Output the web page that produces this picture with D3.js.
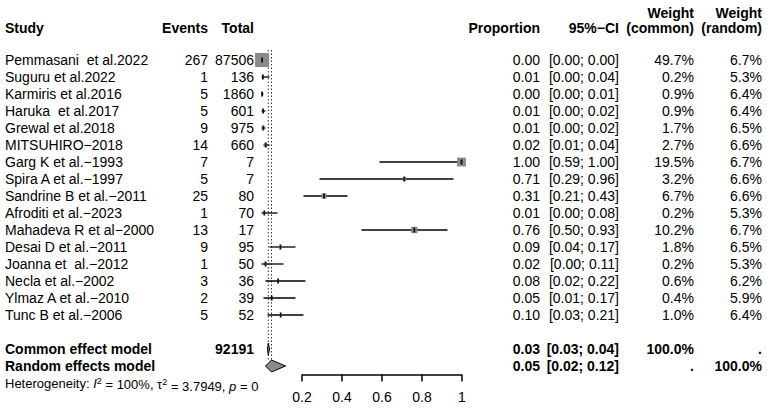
<!DOCTYPE html>
<html>
<head>
<meta charset="utf-8">
<script src="https://cdn.jsdelivr.net/npm/d3@7"></script>
<style>
  body { margin: 0; background: #fff; }
  svg { font-family: "Liberation Sans", Arial, Helvetica, sans-serif; }
  text { white-space: pre; }
</style>
</head>
<body>
<svg id="chart" width="767" height="409"></svg>
<script>
// study data
const studies = ["Pemmasani  et al.2022", "Suguru et al.2022", "Karmiris et al.2016", "Haruka  et al.2017",
  "Grewal et al.2018", "MITSUHIRO\u22122018", "Garg K et al.\u22121993", "Spira A et al.\u22121997",
  "Sandrine B et al.\u22122011", "Afroditi et al.\u22122023", "Mahadeva R et al\u22122000", "Desai D et al.\u22122011",
  "Joanna et  al.\u22122012", "Necla et al.\u22122002", "Ylmaz A et al.\u22122010", "Tunc B et al.\u22122006"];
const events = [267, 1, 5, 5, 9, 14, 7, 5, 25, 1, 13, 9, 1, 3, 2, 5];
const totals = [87506, 136, 1860, 601, 975, 660, 7, 7, 80, 70, 17, 95, 50, 36, 39, 52];
const estimates = [0.003, 0.007, 0.003, 0.008, 0.009, 0.021, 1.0, 0.714, 0.313, 0.014, 0.764, 0.0947, 0.02, 0.083, 0.051, 0.096];
const lower = [0.00, 0.00, 0.00, 0.00, 0.00, 0.01, 0.59, 0.29, 0.21, 0.00, 0.50, 0.04, 0.00, 0.02, 0.01, 0.03];
const upper = [0.00, 0.04, 0.01, 0.02, 0.02, 0.04, 1.00, 0.96, 0.43, 0.08, 0.93, 0.17, 0.11, 0.22, 0.17, 0.21];
const weightCommon = [49.7, 0.2, 0.9, 0.9, 1.7, 2.7, 19.5, 3.2, 6.7, 0.2, 10.2, 1.8, 0.2, 0.6, 0.4, 1.0];
const weightRandom = [6.7, 5.3, 6.4, 6.4, 6.5, 6.6, 6.7, 6.6, 6.6, 5.3, 6.7, 6.5, 5.3, 6.2, 5.9, 6.4];

// pooled estimates
const pooled = [
  { name: "Common effect model", total: "92191", est: 0.034, shown: "0.03", lo: 0.03, hi: 0.04, wc: "100.0%", wr: "." },
  { name: "Random effects model", total: "", est: 0.05, shown: "0.05", lo: 0.02, hi: 0.12, wc: ".", wr: "100.0%" }
];
const tickValues = [0.2, 0.4, 0.6, 0.8, 1];

const svg = d3.select("#chart");
const fs = 14;

// x scale for proportions, row scale for the lines
const x = d3.scaleLinear().domain([0, 1]).range([261.5, 461.5]);
const row = d3.scaleLinear().domain([0, 1]).range([60, 77]);

const rows = studies.map((s, i) => ({
  name: s, ev: events[i], n: totals[i], est: estimates[i], lo: lower[i], hi: upper[i],
  wc: weightCommon[i], wr: weightRandom[i], y: row(i)
}));
const f2 = d3.format(".2f");

// header
const hdr = svg.append("g").attr("font-weight", "bold").attr("font-size", fs);
const head2 = 28, head1 = 13;
[["Study", 5, "start"], ["Events", 208, "end"], ["Total", 254, "end"], ["Proportion", 540, "end"],
 ["95%\u2212CI", 619, "end"], ["(common)", 694, "end"], ["(random)", 762, "end"]].forEach(d => {
  hdr.append("text").attr("x", d[1]).attr("y", head2).attr("dy", "0.35em").attr("text-anchor", d[2]).text(d[0]);
});
[694, 762].forEach(px => {
  hdr.append("text").attr("x", px).attr("y", head1).attr("dy", "0.35em").attr("text-anchor", "end").text("Weight");
});

// text columns for studies
const txt = svg.append("g").attr("font-size", fs);
function col(data, xpos, anchor, fn, bold) {
  txt.selectAll(null).data(data).enter().append("text")
    .attr("x", xpos).attr("y", d => d.y).attr("dy", "0.35em")
    .attr("text-anchor", anchor)
    .attr("font-weight", bold ? "bold" : null)
    .text(fn);
}
col(rows, 5, "start", d => d.name);
col(rows, 208, "end", d => d.ev);
col(rows, 254, "end", d => d.n);
col(rows, 540, "end", d => f2(d.est));
col(rows, 619, "end", d => "[" + f2(d.lo) + "; " + f2(d.hi) + "]");
col(rows, 694, "end", d => d.wc.toFixed(1) + "%");
col(rows, 762, "end", d => d.wr.toFixed(1) + "%");

pooled.forEach((p, k) => p.y = row(17 + k));
col(pooled, 5, "start", d => d.name, true);
col(pooled, 254, "end", d => d.total, true);
col(pooled, 540, "end", d => d.shown, true);
col(pooled, 619, "end", d => "[" + f2(d.lo) + "; " + f2(d.hi) + "]", true);
col(pooled, 694, "end", d => d.wc, true);
col(pooled, 762, "end", d => d.wr, true);

// heterogeneity line
const het = svg.append("text").attr("x", 5).attr("y", row(19)).attr("dy", "0.35em").attr("font-size", 13);
het.append("tspan").text("Heterogeneity: ");
het.append("tspan").attr("font-style", "italic").text("I");
het.append("tspan").attr("font-size", 9).attr("dy", "-0.45em").text("2");
het.append("tspan").attr("dy", "0.45em").text(" = 100%, \u03c4");
het.append("tspan").attr("font-size", 9).attr("dy", "-0.45em").text("2");
het.append("tspan").attr("dy", "0.45em").text(" = 3.7949, ");
het.append("tspan").attr("font-style", "italic").text("p");
het.append("tspan").text(" = 0");

// reference dotted lines at pooled estimates
svg.selectAll(".ref").data(pooled).enter().append("line")
  .attr("x1", d => x(d.est)).attr("x2", d => x(d.est))
  .attr("y1", 50).attr("y2", row(18) - 6)
  .attr("stroke", "#333").attr("stroke-width", 1).attr("stroke-dasharray", "1.5,2");

// confidence interval lines
const marks = svg.append("g");
marks.selectAll(".ci").data(rows).enter().append("line")
  .attr("x1", d => x(d.lo)).attr("x2", d => x(d.hi))
  .attr("y1", d => d.y).attr("y2", d => d.y)
  .attr("stroke", "#000").attr("stroke-width", 1.3);

// weight boxes
const boxSize = w => 14 * Math.sqrt(w / 49.7);
marks.selectAll(".box").data(rows).enter().append("rect")
  .attr("x", d => x(d.est) - boxSize(d.wc) / 2)
  .attr("y", d => d.y - boxSize(d.wc) / 2)
  .attr("width", d => boxSize(d.wc)).attr("height", d => boxSize(d.wc))
  .attr("fill", "#8a8a8a");

// point estimate ticks
marks.selectAll(".pt").data(rows).enter().append("rect")
  .attr("x", d => x(d.est) - 0.9).attr("y", d => d.y - 2.5)
  .attr("width", 1.8).attr("height", 5)
  .attr("fill", "#111");

// pooled diamonds
marks.selectAll(".dia").data(pooled).enter().append("path")
  .attr("d", d => `M${x(d.lo)},${d.y} L${x(d.est)},${d.y - 6} L${x(d.hi)},${d.y} L${x(d.est)},${d.y + 6} Z`)
  .attr("fill", "#8a8a8a").attr("stroke", "#000").attr("stroke-width", 1);

// x axis
const axisScale = x.copy().domain([0.2, 1]).range([x(0.2), x(1)]);
const ax = svg.append("g").attr("transform", "translate(0,374.5)")
  .call(d3.axisBottom(axisScale).tickValues(tickValues).tickSize(7).tickSizeOuter(0).tickPadding(11)
    .tickFormat(d => d === 1 ? "1" : d3.format(".1f")(d)));
ax.select(".domain").attr("stroke", "#000").attr("stroke-width", 1.5);
ax.selectAll(".tick line").attr("stroke", "#000").attr("stroke-width", 1.5);
ax.selectAll(".tick text").attr("font-size", fs).attr("fill", "#000")
  .attr("font-family", "Liberation Sans, Arial, sans-serif");
</script>
</body>
</html>
